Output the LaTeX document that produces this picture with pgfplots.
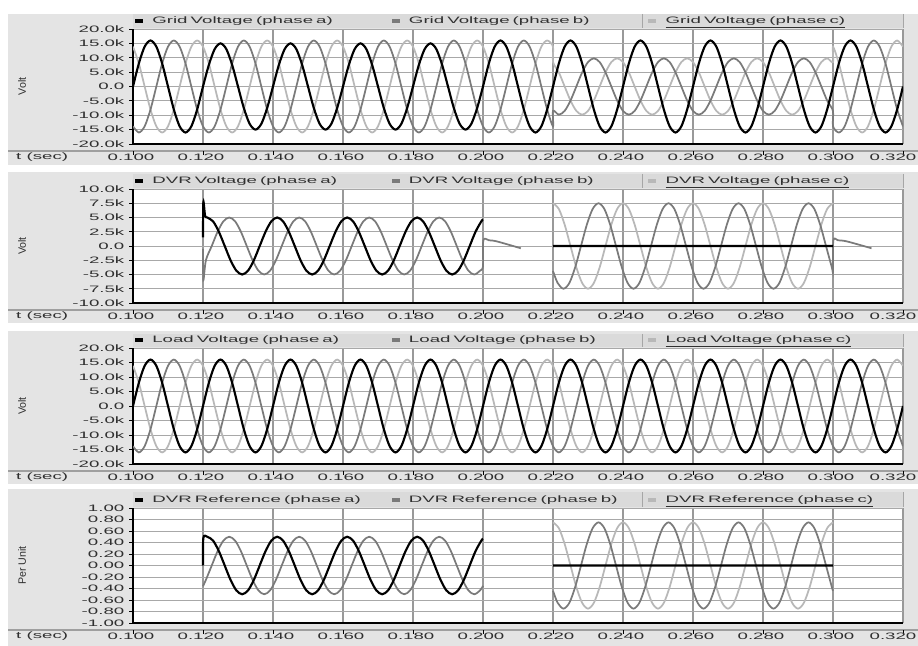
\documentclass[border=0pt]{standalone}
\usepackage{fontspec}
\setmainfont{Liberation Sans}[FakeStretch=2.0]
\newfontfamily\yfont{Liberation Sans}
\usepackage{pgfplots}
\usepackage{pgfplotstable}
\pgfplotsset{compat=1.18}
\definecolor{phA}{HTML}{000000}
\definecolor{phB}{HTML}{7A7A7A}
\definecolor{phC}{HTML}{B8B8B8}
\definecolor{pnlbg}{HTML}{E4E4E4}
\definecolor{lbar}{HTML}{DADADA}
\definecolor{gridv}{HTML}{999999}
\definecolor{gridh}{HTML}{A8A8A8}
\definecolor{txt}{HTML}{303030}

\pgfplotstableread{
t a b c
0.10000 0 -13856 13856
0.10167 8000 -16000 8000
0.10333 13856 -13856 0
0.10500 16000 -8000 -8000
0.10667 13856 0 -13856
0.10833 8000 8000 -16000
0.11000 0 13856 -13856
0.11167 -8000 16000 -8000
0.11333 -13856 13856 0
0.11500 -16000 8000 8000
0.11667 -13856 0 13856
0.11833 -8000 -8000 16000
0.12000 0 -13856 13856
0.12167 7500 -16000 8000
0.12333 12990 -13856 0
0.12500 15000 -8000 -8000
0.12667 12990 0 -13856
0.12833 7500 8000 -16000
0.13000 0 13856 -13856
0.13167 -7500 16000 -8000
0.13333 -12990 13856 0
0.13500 -15000 8000 8000
0.13667 -12990 0 13856
0.13833 -7500 -8000 16000
0.14000 0 -13856 13856
0.14167 7500 -16000 8000
0.14333 12990 -13856 0
0.14500 15000 -8000 -8000
0.14667 12990 0 -13856
0.14833 7500 8000 -16000
0.15000 0 13856 -13856
0.15167 -7500 16000 -8000
0.15333 -12990 13856 0
0.15500 -15000 8000 8000
0.15667 -12990 0 13856
0.15833 -7500 -8000 16000
0.16000 0 -13856 13856
0.16167 7500 -16000 8000
0.16333 12990 -13856 0
0.16500 15000 -8000 -8000
0.16667 12990 0 -13856
0.16833 7500 8000 -16000
0.17000 0 13856 -13856
0.17167 -7500 16000 -8000
0.17333 -12990 13856 0
0.17500 -15000 8000 8000
0.17667 -12990 0 13856
0.17833 -7500 -8000 16000
0.18000 0 -13856 13856
0.18167 7500 -16000 8000
0.18333 12990 -13856 0
0.18500 15000 -8000 -8000
0.18667 12990 0 -13856
0.18833 7500 8000 -16000
0.19000 0 13856 -13856
0.19167 -7500 16000 -8000
0.19333 -12990 13856 0
0.19500 -15000 8000 8000
0.19667 -12990 0 13856
0.19833 -7500 -8000 16000
0.20000 0 -13856 13856
0.20167 8000 -16000 8000
0.20333 13856 -13856 0
0.20500 16000 -8000 -8000
0.20667 13856 0 -13856
0.20833 8000 8000 -16000
0.21000 0 13856 -13856
0.21167 -8000 16000 -8000
0.21333 -13856 13856 0
0.21500 -16000 8000 8000
0.21667 -13856 0 13856
0.21833 -8000 -8000 16000
0.22000 0 -13856 13856
0.22001 0 -8487 8487
0.22167 8000 -9800 4900
0.22333 13856 -8487 0
0.22500 16000 -4900 -4900
0.22667 13856 0 -8487
0.22833 8000 4900 -9800
0.23000 0 8487 -8487
0.23167 -8000 9800 -4900
0.23333 -13856 8487 0
0.23500 -16000 4900 4900
0.23667 -13856 0 8487
0.23833 -8000 -4900 9800
0.24000 0 -8487 8487
0.24167 8000 -9800 4900
0.24333 13856 -8487 0
0.24500 16000 -4900 -4900
0.24667 13856 0 -8487
0.24833 8000 4900 -9800
0.25000 0 8487 -8487
0.25167 -8000 9800 -4900
0.25333 -13856 8487 0
0.25500 -16000 4900 4900
0.25667 -13856 0 8487
0.25833 -8000 -4900 9800
0.26000 0 -8487 8487
0.26167 8000 -9800 4900
0.26333 13856 -8487 0
0.26500 16000 -4900 -4900
0.26667 13856 0 -8487
0.26833 8000 4900 -9800
0.27000 0 8487 -8487
0.27167 -8000 9800 -4900
0.27333 -13856 8487 0
0.27500 -16000 4900 4900
0.27667 -13856 0 8487
0.27833 -8000 -4900 9800
0.28000 0 -8487 8487
0.28167 8000 -9800 4900
0.28333 13856 -8487 0
0.28500 16000 -4900 -4900
0.28667 13856 0 -8487
0.28833 8000 4900 -9800
0.29000 0 8487 -8487
0.29167 -8000 9800 -4900
0.29333 -13856 8487 0
0.29500 -16000 4900 4900
0.29667 -13856 0 8487
0.29833 -8000 -4900 9800
0.29999 0 -8487 8487
0.30000 0 -13856 13856
0.30167 8000 -16000 8000
0.30333 13856 -13856 0
0.30500 16000 -8000 -8000
0.30667 13856 0 -13856
0.30833 8000 8000 -16000
0.31000 0 13856 -13856
0.31167 -8000 16000 -8000
0.31333 -13856 13856 0
0.31500 -16000 8000 8000
0.31667 -13856 0 13856
0.31833 -8000 -8000 16000
0.32000 0 -13856 13856
}\gridtab

\pgfplotstableread{
t a b c
0.10000 0 -13856 13856
0.10167 8000 -16000 8000
0.10333 13856 -13856 0
0.10500 16000 -8000 -8000
0.10667 13856 0 -13856
0.10833 8000 8000 -16000
0.11000 0 13856 -13856
0.11167 -8000 16000 -8000
0.11333 -13856 13856 0
0.11500 -16000 8000 8000
0.11667 -13856 0 13856
0.11833 -8000 -8000 16000
0.12000 0 -13856 13856
0.12167 8000 -16000 8000
0.12333 13856 -13856 0
0.12500 16000 -8000 -8000
0.12667 13856 0 -13856
0.12833 8000 8000 -16000
0.13000 0 13856 -13856
0.13167 -8000 16000 -8000
0.13333 -13856 13856 0
0.13500 -16000 8000 8000
0.13667 -13856 0 13856
0.13833 -8000 -8000 16000
0.14000 0 -13856 13856
0.14167 8000 -16000 8000
0.14333 13856 -13856 0
0.14500 16000 -8000 -8000
0.14667 13856 0 -13856
0.14833 8000 8000 -16000
0.15000 0 13856 -13856
0.15167 -8000 16000 -8000
0.15333 -13856 13856 0
0.15500 -16000 8000 8000
0.15667 -13856 0 13856
0.15833 -8000 -8000 16000
0.16000 0 -13856 13856
0.16167 8000 -16000 8000
0.16333 13856 -13856 0
0.16500 16000 -8000 -8000
0.16667 13856 0 -13856
0.16833 8000 8000 -16000
0.17000 0 13856 -13856
0.17167 -8000 16000 -8000
0.17333 -13856 13856 0
0.17500 -16000 8000 8000
0.17667 -13856 0 13856
0.17833 -8000 -8000 16000
0.18000 0 -13856 13856
0.18167 8000 -16000 8000
0.18333 13856 -13856 0
0.18500 16000 -8000 -8000
0.18667 13856 0 -13856
0.18833 8000 8000 -16000
0.19000 0 13856 -13856
0.19167 -8000 16000 -8000
0.19333 -13856 13856 0
0.19500 -16000 8000 8000
0.19667 -13856 0 13856
0.19833 -8000 -8000 16000
0.20000 0 -13856 13856
0.20167 8000 -16000 8000
0.20333 13856 -13856 0
0.20500 16000 -8000 -8000
0.20667 13856 0 -13856
0.20833 8000 8000 -16000
0.21000 0 13856 -13856
0.21167 -8000 16000 -8000
0.21333 -13856 13856 0
0.21500 -16000 8000 8000
0.21667 -13856 0 13856
0.21833 -8000 -8000 16000
0.22000 0 -13856 13856
0.22167 8000 -16000 8000
0.22333 13856 -13856 0
0.22500 16000 -8000 -8000
0.22667 13856 0 -13856
0.22833 8000 8000 -16000
0.23000 0 13856 -13856
0.23167 -8000 16000 -8000
0.23333 -13856 13856 0
0.23500 -16000 8000 8000
0.23667 -13856 0 13856
0.23833 -8000 -8000 16000
0.24000 0 -13856 13856
0.24167 8000 -16000 8000
0.24333 13856 -13856 0
0.24500 16000 -8000 -8000
0.24667 13856 0 -13856
0.24833 8000 8000 -16000
0.25000 0 13856 -13856
0.25167 -8000 16000 -8000
0.25333 -13856 13856 0
0.25500 -16000 8000 8000
0.25667 -13856 0 13856
0.25833 -8000 -8000 16000
0.26000 0 -13856 13856
0.26167 8000 -16000 8000
0.26333 13856 -13856 0
0.26500 16000 -8000 -8000
0.26667 13856 0 -13856
0.26833 8000 8000 -16000
0.27000 0 13856 -13856
0.27167 -8000 16000 -8000
0.27333 -13856 13856 0
0.27500 -16000 8000 8000
0.27667 -13856 0 13856
0.27833 -8000 -8000 16000
0.28000 0 -13856 13856
0.28167 8000 -16000 8000
0.28333 13856 -13856 0
0.28500 16000 -8000 -8000
0.28667 13856 0 -13856
0.28833 8000 8000 -16000
0.29000 0 13856 -13856
0.29167 -8000 16000 -8000
0.29333 -13856 13856 0
0.29500 -16000 8000 8000
0.29667 -13856 0 13856
0.29833 -8000 -8000 16000
0.30000 0 -13856 13856
0.30167 8000 -16000 8000
0.30333 13856 -13856 0
0.30500 16000 -8000 -8000
0.30667 13856 0 -13856
0.30833 8000 8000 -16000
0.31000 0 13856 -13856
0.31167 -8000 16000 -8000
0.31333 -13856 13856 0
0.31500 -16000 8000 8000
0.31667 -13856 0 13856
0.31833 -8000 -8000 16000
0.32000 0 -13856 13856
}\loadtab

\pgfplotsset{
  pscad/.style={
    scale only axis, width=577.5pt,
    xmin=0.1, xmax=0.32,
    xtick={0.10,0.12,0.14,0.16,0.18,0.20,0.22,0.24,0.26,0.28,0.30,0.32},
    xticklabels={0.100,0.120,0.140,0.160,0.180,0.200,0.220,0.240,0.260,0.280,0.300,{\hspace*{-12pt}0.320}},
    scaled x ticks=false, scaled y ticks=false,
    axis x line*=bottom, axis y line*=left,
    axis line style={black, line width=0.9pt},
    tick align=outside, major tick length=3pt,
    xtick style={black, line width=0.6pt, yshift=-5.25pt},
    ytick style={black, line width=0.6pt},
    grid=major,
    x grid style={gridv, line width=1.2pt},
    y grid style={gridh, line width=0.7pt},
    axis background/.style={fill=white},
    font=\fontsize{7}{8}\selectfont,
    tick label style={text=txt},
    xticklabel style={xshift=-1.5pt, yshift=-1pt},
    xlabel={t (sec)},
    xlabel style={at={(axis description cs:-0.118,0)}, anchor=center, yshift=-9.75pt, text=txt},
    ylabel style={at={(axis description cs:-0.144,0.5)}, anchor=center, font=\yfont\fontsize{8}{9}\selectfont, text=txt},
    legend columns=3, reverse legend,
    legend style={at={(axis description cs:0,1)}, anchor=west, xshift=1.5pt, yshift=6pt,
      draw=none, fill=none, inner sep=0pt, outer sep=0pt, column sep=0pt, row sep=0pt,
      nodes={inner sep=0pt, anchor=west, text width=179.5pt, text=txt},
      font=\fontsize{7}{8}\selectfont},
    clip mode=individual,
    unbounded coords=jump,
  },
  pA/.style={draw=phA, line width=1.6pt, smooth,
    legend image code/.code={\fill[phA, draw=none] (0pt,-1.3pt) rectangle (6pt,1.3pt); \path[draw=none, fill=none] (0pt,0pt) -- (13pt,0pt);}},
  pB/.style={draw=phB, line width=1.3pt, smooth,
    legend image code/.code={\fill[phB, draw=none] (0pt,-1.3pt) rectangle (6pt,1.3pt); \path[draw=none, fill=none] (0pt,0pt) -- (13pt,0pt);}},
  pC/.style={draw=phC, line width=1.3pt, smooth,
    legend image code/.code={\fill[phC, draw=none] (0pt,-1.3pt) rectangle (6pt,1.3pt); \path[draw=none, fill=none] (0pt,0pt) -- (13pt,0pt);}},
}

\begin{document}
\begin{tikzpicture}
\useasboundingbox (0,0) rectangle (688.5pt,484.5pt);
\begin{scope}[x=0.75pt,y=-0.75pt,yshift=484.5pt]
  % panel frames
  \fill[pnlbg] (8,14) rectangle (918,165);
  \fill[pnlbg] (8,172) rectangle (918,323);
  \fill[pnlbg] (8,331) rectangle (918,484);
  \fill[pnlbg] (8,489) rectangle (918,646);
  % legend bars
  \foreach \ya/\yb in {14/28, 174/188, 334/347, 492/507}{
    \fill[lbar] (133,\ya) rectangle (903,\yb);
    \draw[gray!70, line width=0.6pt] (642,\ya) -- (642,\yb);
    \draw[gray!70, line width=0.6pt] (903,\ya) -- (903,\yb);
  }
  % time strip lines
  \foreach \yy in {151, 310, 471, 630}{
    \draw[gray!75, line width=0.8pt] (8,\yy) -- (918,\yy);
  }
\end{scope}

% ---------------- Grid voltage
\begin{axis}[pscad, at={(99.75pt,376.5pt)}, anchor=south west, height=86.25pt,
  ymin=-20000, ymax=20000,
  ytick={-20000,-15000,-10000,-5000,0,5000,10000,15000,20000},
  yticklabels={-20.0k,-15.0k,-10.0k,-5.0k,0.0,5.0k,10.0k,15.0k,20.0k},
  ylabel={Volt}]
\addplot[pC] table[x=t,y=c]{\gridtab};
\addlegendentry{\underline{Grid Voltage (phase c)}}
\addplot[pB] table[x=t,y=b]{\gridtab};
\addlegendentry{Grid Voltage (phase b)}
\addplot[pA] table[x=t,y=a]{\gridtab};
\addlegendentry{Grid Voltage (phase a)}
\end{axis}

% ---------------- DVR voltage
\begin{axis}[pscad, at={(99.75pt,257.25pt)}, anchor=south west, height=85.5pt,
  ymin=-10000, ymax=10000,
  ytick={-10000,-7500,-5000,-2500,0,2500,5000,7500,10000},
  yticklabels={-10.0k,-7.5k,-5.0k,-2.5k,0.0,2.5k,5.0k,7.5k,10.0k},
  ylabel={Volt}]
\addplot[pC] coordinates {
(0.22000,7500) (0.22167,6495) (0.22333,3750) (0.22500,0) (0.22667,-3750) (0.22833,-6495)
(0.23000,-7500) (0.23167,-6495) (0.23333,-3750) (0.23500,0) (0.23667,3750) (0.23833,6495)
(0.24000,7500) (0.24167,6495) (0.24333,3750) (0.24500,0) (0.24667,-3750) (0.24833,-6495)
(0.25000,-7500) (0.25167,-6495) (0.25333,-3750) (0.25500,0) (0.25667,3750) (0.25833,6495)
(0.26000,7500) (0.26167,6495) (0.26333,3750) (0.26500,0) (0.26667,-3750) (0.26833,-6495)
(0.27000,-7500) (0.27167,-6495) (0.27333,-3750) (0.27500,0) (0.27667,3750) (0.27833,6495)
(0.28000,7500) (0.28167,6495) (0.28333,3750) (0.28500,0) (0.28667,-3750) (0.28833,-6495)
(0.29000,-7500) (0.29167,-6495) (0.29333,-3750) (0.29500,0) (0.29667,3750) (0.29833,6495)
(0.30000,7500)
};
\addlegendentry{\underline{DVR Voltage (phase c)}}
\addplot[pB] coordinates {
(0.12000,-500) (0.12010,-6000) (0.12083,-2500) (0.12250,0) (0.12417,2500) (0.12583,4330)
(0.12750,5000) (0.12917,4330) (0.13083,2500) (0.13250,0) (0.13417,-2500) (0.13583,-4330)
(0.13750,-5000) (0.13917,-4330) (0.14083,-2500) (0.14250,0) (0.14417,2500) (0.14583,4330)
(0.14750,5000) (0.14917,4330) (0.15083,2500) (0.15250,0) (0.15417,-2500) (0.15583,-4330)
(0.15750,-5000) (0.15917,-4330) (0.16083,-2500) (0.16250,0) (0.16417,2500) (0.16583,4330)
(0.16750,5000) (0.16917,4330) (0.17083,2500) (0.17250,0) (0.17417,-2500) (0.17583,-4330)
(0.17750,-5000) (0.17917,-4330) (0.18083,-2500) (0.18250,0) (0.18417,2500) (0.18583,4330)
(0.18750,5000) (0.18917,4330) (0.19083,2500) (0.19250,0) (0.19417,-2500) (0.19583,-4330)
(0.19750,-5000) (0.19917,-4330) (0.20000,-3540)
(0.20010,1000) (0.20170,1000) (0.20400,800) (0.21080,-400)
(0.21500,nan)
(0.22000,-4400) (0.22133,-6495)
(0.22300,-7500) (0.22467,-6495) (0.22633,-3750) (0.22800,0) (0.22967,3750) (0.23133,6495)
(0.23300,7500) (0.23467,6495) (0.23633,3750) (0.23800,0) (0.23967,-3750) (0.24133,-6495)
(0.24300,-7500) (0.24467,-6495) (0.24633,-3750) (0.24800,0) (0.24967,3750) (0.25133,6495)
(0.25300,7500) (0.25467,6495) (0.25633,3750) (0.25800,0) (0.25967,-3750) (0.26133,-6495)
(0.26300,-7500) (0.26467,-6495) (0.26633,-3750) (0.26800,0) (0.26967,3750) (0.27133,6495)
(0.27300,7500) (0.27467,6495) (0.27633,3750) (0.27800,0) (0.27967,-3750) (0.28133,-6495)
(0.28300,-7500) (0.28467,-6495) (0.28633,-3750) (0.28800,0) (0.28967,3750) (0.29133,6495)
(0.29300,7500) (0.29467,6495) (0.29633,3750) (0.29800,0) (0.29967,-3750)
(0.30000,-4400) (0.30010,1000) (0.30140,1000) (0.30400,800) (0.31100,-400)
};
\addlegendentry{DVR Voltage (phase b)}
\addplot[pA] coordinates {
(0.12000,1500) (0.12010,7700) (0.12060,5300)
(0.12120,5000) (0.12287,4330) (0.12453,2500) (0.12620,0) (0.12787,-2500) (0.12953,-4330)
(0.13120,-5000) (0.13287,-4330) (0.13453,-2500) (0.13620,0) (0.13787,2500) (0.13953,4330)
(0.14120,5000) (0.14287,4330) (0.14453,2500) (0.14620,0) (0.14787,-2500) (0.14953,-4330)
(0.15120,-5000) (0.15287,-4330) (0.15453,-2500) (0.15620,0) (0.15787,2500) (0.15953,4330)
(0.16120,5000) (0.16287,4330) (0.16453,2500) (0.16620,0) (0.16787,-2500) (0.16953,-4330)
(0.17120,-5000) (0.17287,-4330) (0.17453,-2500) (0.17620,0) (0.17787,2500) (0.17953,4330)
(0.18120,5000) (0.18287,4330) (0.18453,2500) (0.18620,0) (0.18787,-2500) (0.18953,-4330)
(0.19120,-5000) (0.19287,-4330) (0.19453,-2500) (0.19620,0) (0.19787,2500) (0.19953,4330)
(0.20000,4650)
(0.21000,nan)
(0.22000,0) (0.30000,0)
};
\addlegendentry{DVR Voltage (phase a)}
\end{axis}

% ---------------- Load voltage
\begin{axis}[pscad, at={(99.75pt,136.5pt)}, anchor=south west, height=87pt,
  ymin=-20000, ymax=20000,
  ytick={-20000,-15000,-10000,-5000,0,5000,10000,15000,20000},
  yticklabels={-20.0k,-15.0k,-10.0k,-5.0k,0.0,5.0k,10.0k,15.0k,20.0k},
  ylabel={Volt}]
\addplot[pC] table[x=t,y=c]{\loadtab};
\addlegendentry{\underline{Load Voltage (phase c)}}
\addplot[pB] table[x=t,y=b]{\loadtab};
\addlegendentry{Load Voltage (phase b)}
\addplot[pA] table[x=t,y=a]{\loadtab};
\addlegendentry{Load Voltage (phase a)}
\end{axis}

% ---------------- DVR reference
\begin{axis}[pscad, at={(99.75pt,17.25pt)}, anchor=south west, height=86.25pt,
  ymin=-1, ymax=1,
  ytick={-1,-0.8,-0.6,-0.4,-0.2,0,0.2,0.4,0.6,0.8,1},
  yticklabels={-1.00,-0.80,-0.60,-0.40,-0.20,0.00,0.20,0.40,0.60,0.80,1.00},
  ylabel={Per Unit}]
\addplot[pC] coordinates {
(0.22000,0.75) (0.22167,0.6495) (0.22333,0.375) (0.22500,0) (0.22667,-0.375) (0.22833,-0.6495)
(0.23000,-0.75) (0.23167,-0.6495) (0.23333,-0.375) (0.23500,0) (0.23667,0.375) (0.23833,0.6495)
(0.24000,0.75) (0.24167,0.6495) (0.24333,0.375) (0.24500,0) (0.24667,-0.375) (0.24833,-0.6495)
(0.25000,-0.75) (0.25167,-0.6495) (0.25333,-0.375) (0.25500,0) (0.25667,0.375) (0.25833,0.6495)
(0.26000,0.75) (0.26167,0.6495) (0.26333,0.375) (0.26500,0) (0.26667,-0.375) (0.26833,-0.6495)
(0.27000,-0.75) (0.27167,-0.6495) (0.27333,-0.375) (0.27500,0) (0.27667,0.375) (0.27833,0.6495)
(0.28000,0.75) (0.28167,0.6495) (0.28333,0.375) (0.28500,0) (0.28667,-0.375) (0.28833,-0.6495)
(0.29000,-0.75) (0.29167,-0.6495) (0.29333,-0.375) (0.29500,0) (0.29667,0.375) (0.29833,0.6495)
(0.30000,0.75)
};
\addlegendentry{\underline{DVR Reference (phase c)}}
\addplot[pB] coordinates {
(0.12000,-0.36) (0.12083,-0.25) (0.12250,0) (0.12417,0.25) (0.12583,0.433)
(0.12750,0.5) (0.12917,0.433) (0.13083,0.25) (0.13250,0) (0.13417,-0.25) (0.13583,-0.433)
(0.13750,-0.5) (0.13917,-0.433) (0.14083,-0.25) (0.14250,0) (0.14417,0.25) (0.14583,0.433)
(0.14750,0.5) (0.14917,0.433) (0.15083,0.25) (0.15250,0) (0.15417,-0.25) (0.15583,-0.433)
(0.15750,-0.5) (0.15917,-0.433) (0.16083,-0.25) (0.16250,0) (0.16417,0.25) (0.16583,0.433)
(0.16750,0.5) (0.16917,0.433) (0.17083,0.25) (0.17250,0) (0.17417,-0.25) (0.17583,-0.433)
(0.17750,-0.5) (0.17917,-0.433) (0.18083,-0.25) (0.18250,0) (0.18417,0.25) (0.18583,0.433)
(0.18750,0.5) (0.18917,0.433) (0.19083,0.25) (0.19250,0) (0.19417,-0.25) (0.19583,-0.433)
(0.19750,-0.5) (0.19917,-0.433) (0.20000,-0.354)
(0.21000,nan)
(0.22000,-0.44) (0.22133,-0.6495)
(0.22300,-0.75) (0.22467,-0.6495) (0.22633,-0.375) (0.22800,0) (0.22967,0.375) (0.23133,0.6495)
(0.23300,0.75) (0.23467,0.6495) (0.23633,0.375) (0.23800,0) (0.23967,-0.375) (0.24133,-0.6495)
(0.24300,-0.75) (0.24467,-0.6495) (0.24633,-0.375) (0.24800,0) (0.24967,0.375) (0.25133,0.6495)
(0.25300,0.75) (0.25467,0.6495) (0.25633,0.375) (0.25800,0) (0.25967,-0.375) (0.26133,-0.6495)
(0.26300,-0.75) (0.26467,-0.6495) (0.26633,-0.375) (0.26800,0) (0.26967,0.375) (0.27133,0.6495)
(0.27300,0.75) (0.27467,0.6495) (0.27633,0.375) (0.27800,0) (0.27967,-0.375) (0.28133,-0.6495)
(0.28300,-0.75) (0.28467,-0.6495) (0.28633,-0.375) (0.28800,0) (0.28967,0.375) (0.29133,0.6495)
(0.29300,0.75) (0.29467,0.6495) (0.29633,0.375) (0.29800,0) (0.29967,-0.375)
(0.30000,-0.44)
};
\addlegendentry{DVR Reference (phase b)}
\addplot[pA] coordinates {
(0.12000,0) (0.12010,0.48)
(0.12120,0.5) (0.12287,0.433) (0.12453,0.25) (0.12620,0) (0.12787,-0.25) (0.12953,-0.433)
(0.13120,-0.5) (0.13287,-0.433) (0.13453,-0.25) (0.13620,0) (0.13787,0.25) (0.13953,0.433)
(0.14120,0.5) (0.14287,0.433) (0.14453,0.25) (0.14620,0) (0.14787,-0.25) (0.14953,-0.433)
(0.15120,-0.5) (0.15287,-0.433) (0.15453,-0.25) (0.15620,0) (0.15787,0.25) (0.15953,0.433)
(0.16120,0.5) (0.16287,0.433) (0.16453,0.25) (0.16620,0) (0.16787,-0.25) (0.16953,-0.433)
(0.17120,-0.5) (0.17287,-0.433) (0.17453,-0.25) (0.17620,0) (0.17787,0.25) (0.17953,0.433)
(0.18120,0.5) (0.18287,0.433) (0.18453,0.25) (0.18620,0) (0.18787,-0.25) (0.18953,-0.433)
(0.19120,-0.5) (0.19287,-0.433) (0.19453,-0.25) (0.19620,0) (0.19787,0.25) (0.19953,0.433)
(0.20000,0.465)
(0.21000,nan)
(0.22000,0) (0.30000,0)
};
\addlegendentry{DVR Reference (phase a)}
\end{axis}
\end{tikzpicture}
\end{document}
